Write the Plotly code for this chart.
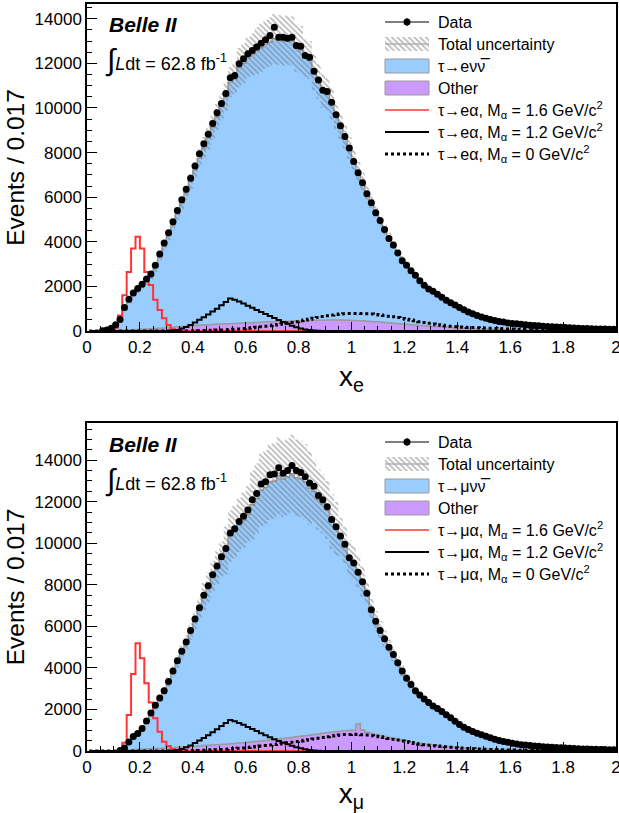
import plotly.graph_objects as go

# ---------------- binning ----------------
N_BINS = 120
X_MIN, X_MAX = 0.0, 2.0
BIN_W = (X_MAX - X_MIN) / N_BINS
centers = [X_MIN + (i + 0.5) * BIN_W for i in range(N_BINS)]

# ---------------- electron channel (top) ----------------
data_e = [0, 0, 0, 10, 40, 120, 280, 520, 1050, 1420,
          1700, 1900, 2100, 2330, 2550, 2950, 3450, 3950, 4400, 4900,
          5400, 5880, 6350, 6850, 7400, 7950, 8400, 8820, 9300, 9780,
          10200, 10650, 11350, 11460, 11980, 12200, 12430, 12580, 12730, 12900,
          13060, 13250, 13620, 13170, 13170, 13130, 13170, 12800, 12770, 12350,
          12270, 11650, 11250, 10790, 10740, 10260, 9700, 9200, 8720, 8200,
          7600, 7100, 6650, 6150, 5750, 5300, 4950, 4550, 4150, 3850,
          3500, 3150, 2950, 2700, 2500, 2250, 2050, 1880, 1780, 1650,
          1510, 1380, 1270, 1170, 1050, 950, 850, 770, 700, 630,
          570, 520, 470, 430, 400, 360, 340, 320, 300, 280,
          260, 245, 230, 215, 200, 190, 180, 165, 155, 145,
          135, 125, 115, 110, 100, 95, 90, 85, 80, 75]

# stacked MC total (tau -> e nu nubar + other)
mc_total_e = [0, 0, 0, 10, 40, 110, 260, 500, 950, 1300,
              1600, 1820, 2030, 2250, 2480, 2850, 3320, 3800, 4270, 4750,
              5250, 5720, 6200, 6700, 7220, 7750, 8200, 8650, 9120, 9600,
              10050, 10500, 11150, 11300, 11800, 12000, 12250, 12400, 12550, 12700,
              12850, 12950, 13100, 13050, 13000, 13050, 13000, 12700, 12600, 12250,
              12150, 11600, 11200, 10750, 10600, 10200, 9650, 9150, 8700, 8200,
              7650, 7150, 6700, 6200, 5800, 5350, 4950, 4550, 4200, 3850,
              3500, 3200, 2950, 2700, 2480, 2250, 2050, 1900, 1770, 1640,
              1500, 1370, 1260, 1150, 1040, 940, 850, 770, 700, 630,
              570, 520, 470, 430, 395, 360, 335, 315, 295, 275,
              255, 240, 225, 210, 198, 186, 175, 163, 153, 143,
              133, 124, 115, 108, 100, 94, 88, 83, 78, 73]

other_e = [0, 0, 0, 0, 0, 0, 10, 20, 30, 45,
           60, 70, 80, 90, 100, 110, 125, 140, 155, 170,
           185, 200, 215, 230, 245, 260, 275, 285, 295, 305,
           315, 320, 330, 340, 350, 355, 360, 370, 380, 390,
           400, 410, 420, 425, 435, 440, 445, 455, 460, 465,
           470, 475, 480, 485, 490, 495, 495, 490, 485, 480,
           475, 465, 455, 440, 430, 415, 400, 385, 370, 350,
           335, 315, 300, 280, 265, 250, 235, 220, 205, 190,
           178, 165, 153, 142, 132, 122, 113, 105, 97, 90,
           84, 78, 72, 67, 62, 58, 54, 50, 47, 44,
           41, 38, 36, 34, 32, 30, 28, 26, 25, 24,
           22, 21, 20, 19, 18, 17, 16, 15, 14, 13]

# total uncertainty, percent of MC total
unc_pct_e = [7, 7, 7, 7, 7, 7, 7, 7, 7, 7,
             7, 7, 7, 7, 7, 7, 5, 5, 5, 5,
             5, 5, 5, 5, 5, 5, 6, 6, 6, 6,
             6, 6, 6, 6, 7.5, 7.5, 7.5, 7.5, 8.5, 8.5,
             8.5, 8.5, 8.5, 8.5, 8.5, 8.5, 8.5, 8.5, 8.5, 7,
             7, 7, 7, 7, 7, 7, 6, 6, 6, 6,
             6, 6, 6, 5, 5, 5, 5, 5, 5, 5,
             5, 5, 5, 5, 5, 5, 5, 5, 5, 5,
             5, 4, 4, 4, 4, 4, 4, 4, 4, 4,
             4, 4, 4, 4, 4, 4, 4, 4, 4, 4,
             4, 4, 4, 4, 4, 4, 4, 4, 4, 4,
             4, 4, 4, 4, 4, 4, 4, 4, 4, 4]

sig16_e = [0, 0, 0, 0, 0, 0, 150, 700, 1600, 2650,
           3700, 4220, 3700, 2650, 2060, 1400, 940, 570, 270, 80,
           30, 15, 5, 0, 0, 0, 0, 0, 0, 0] + [0] * 90

sig12_e = [0] * 18 + [5, 20,
           50, 110, 180, 270, 380, 500, 620, 740, 870, 1000,
           1150, 1300, 1460, 1400, 1320, 1230, 1130, 1040, 940, 850,
           760, 670, 580, 490, 400, 320, 240, 170, 110, 70,
           40, 20, 10, 5] + [0] * 66

sig0_e = [0, 0, 0, 0, 0, 0, 0, 0, 0, 0,
          0, 0, 0, 0, 0, 0, 0, 0, 0, 0,
          0, 0, 5, 8, 10, 15, 20, 25, 30, 40,
          50, 60, 70, 80, 95, 110, 125, 145, 165, 190,
          215, 240, 265, 295, 325, 355, 385, 420, 455, 490,
          530, 570, 610, 650, 685, 715, 740, 760, 775, 785,
          790, 790, 785, 775, 760, 740, 720, 695, 665, 635,
          600, 565, 530, 490, 455, 420, 385, 350, 315, 285,
          255, 230, 210, 195, 180, 170, 160, 152, 145, 138,
          130, 122, 115, 108, 100, 93, 86, 80, 74, 68,
          63, 58, 53, 49, 45, 41, 38, 35, 32, 29,
          26, 24, 22, 20, 18, 16, 14, 13, 12, 11]

# ---------------- muon channel (bottom) ----------------
data_mu = [0, 0, 0, 0, 0, 0, 0, 20, 150, 430,
           700, 840, 1080, 1450, 1830, 2200, 2550, 2900, 3350, 3850,
           4350, 4800, 5250, 5800, 6350, 6900, 7500, 7950, 8480, 8900,
           9350, 9750, 10500, 10700, 11050, 11300, 11600, 12100, 12400, 12850,
           12960, 13300, 13330, 13630, 13370, 13500, 13750, 13500, 13410, 13200,
           12900, 12750, 12300, 12100, 11760, 11150, 10800, 10350, 9950, 9300,
           9050, 8600, 8150, 7600, 6800, 6250, 5800, 5400, 5000, 4650,
           4250, 3850, 3500, 3200, 2900, 2700, 2500, 2330, 2170, 2050,
           1900, 1750, 1600, 1430, 1280, 1140, 1030, 940, 860, 780,
           710, 640, 570, 510, 460, 420, 375, 340, 305, 285,
           265, 245, 225, 210, 195, 180, 165, 155, 140, 130,
           120, 110, 100, 95, 85, 80, 75, 70, 65, 60]

mc_total_mu = [0, 0, 0, 0, 0, 0, 0, 20, 140, 420,
               680, 830, 1060, 1420, 1800, 2160, 2520, 2880, 3320, 3800,
               4300, 4750, 5200, 5750, 6300, 6850, 7420, 7880, 8400, 8820,
               9250, 9650, 10350, 10550, 10880, 11100, 11380, 11850, 12150, 12550,
               12700, 12950, 13000, 13250, 13100, 13200, 13350, 13150, 13100, 12950,
               12650, 12500, 12100, 11900, 11600, 11050, 10700, 10300, 9900, 9300,
               9050, 8650, 8150, 7600, 6850, 6300, 5850, 5420, 5020, 4650,
               4250, 3850, 3500, 3200, 2900, 2700, 2500, 2330, 2170, 2050,
               1900, 1750, 1600, 1430, 1280, 1140, 1030, 940, 860, 780,
               710, 640, 570, 510, 460, 420, 375, 340, 305, 285,
               265, 245, 225, 210, 195, 180, 165, 155, 140, 130,
               120, 110, 100, 95, 85, 80, 75, 70, 65, 60]

other_mu = [0, 0, 0, 0, 0, 0, 0, 0, 20, 40,
            60, 75, 85, 95, 105, 115, 125, 135, 145, 160,
            175, 190, 200, 215, 230, 245, 260, 275, 290, 300,
            315, 330, 345, 360, 380, 400, 420, 440, 460, 480,
            505, 530, 555, 580, 605, 630, 655, 680, 705, 730,
            760, 790, 820, 850, 880, 900, 930, 950, 970, 990,
            1000, 1300, 1010, 900, 850, 800, 750, 700, 650, 600,
            560, 520, 480, 440, 400, 370, 340, 310, 285, 260,
            240, 220, 200, 185, 170, 155, 142, 130, 120, 110,
            100, 92, 85, 78, 72, 66, 61, 56, 52, 48,
            45, 42, 39, 36, 34, 32, 30, 28, 26, 25,
            23, 22, 21, 20, 19, 18, 17, 16, 15, 14]

unc_pct_mu = [8, 8, 8, 8, 8, 8, 8, 8, 8, 8,
              8, 8, 8, 8, 8, 8, 7, 7, 7, 7,
              7, 7, 7, 7, 7, 7, 9, 9, 9, 9,
              9, 12, 12, 12, 12, 12, 12, 14, 14, 14,
              14, 14, 14, 14, 14, 14, 14, 14, 14, 14,
              14, 12, 12, 12, 12, 12, 12, 9, 9, 9,
              9, 9, 9, 7, 7, 7, 7, 7, 7, 7,
              7, 7, 7, 7, 7, 7, 5, 5, 5, 5,
              5, 5, 5, 5, 5, 5, 5, 5, 5, 5,
              5, 5, 5, 5, 5, 5, 5, 5, 5, 5,
              5, 5, 5, 5, 5, 5, 5, 5, 5, 5,
              5, 5, 5, 5, 5, 5, 5, 5, 5, 5]

sig16_mu = [0, 0, 0, 0, 0, 0, 0, 0, 400, 1735,
            3710, 5190, 4470, 3260, 2330, 1575, 930, 450, 240, 80,
            30, 10, 0, 0, 0, 0, 0, 0, 0, 0] + [0] * 90

sig12_mu = [0] * 19 + [15,
            45, 100, 180, 270, 380, 500, 630, 760, 900, 1050,
            1200, 1350, 1490, 1430, 1350, 1260, 1160, 1060, 960, 860,
            760, 660, 570, 480, 400, 320, 250, 185, 130, 85,
            50, 25, 12, 5] + [0] * 66

sig0_mu = [0, 0, 0, 0, 0, 0, 0, 0, 0, 0,
           0, 0, 0, 0, 0, 0, 0, 0, 0, 5,
           8, 10, 14, 18, 24, 30, 38, 46, 55, 65,
           76, 88, 100, 115, 130, 148, 168, 190, 212, 236,
           260, 285, 312, 340, 368, 396, 424, 452, 482, 512,
           545, 578, 612, 645, 690, 720, 748, 770, 790, 800,
           805, 800, 785, 765, 740, 710, 680, 645, 605, 565,
           525, 485, 445, 405, 365, 330, 300, 275, 255, 240,
           220, 200, 180, 160, 145, 132, 120, 110, 100, 90,
           82, 75, 68, 62, 56, 51, 46, 42, 38, 34,
           31, 28, 25, 23, 21, 19, 17, 15, 14, 13,
           12, 11, 10, 9, 8, 7, 6, 6, 5, 5]

for _n, _a in [("data_e", data_e), ("mc_total_e", mc_total_e), ("other_e", other_e),
               ("unc_pct_e", unc_pct_e), ("sig16_e", sig16_e), ("sig12_e", sig12_e),
               ("sig0_e", sig0_e), ("data_mu", data_mu), ("mc_total_mu", mc_total_mu),
               ("other_mu", other_mu), ("unc_pct_mu", unc_pct_mu), ("sig16_mu", sig16_mu),
               ("sig12_mu", sig12_mu), ("sig0_mu", sig0_mu)]:
    assert len(_a) == N_BINS, (_n, len(_a))

x_tick_vals = [0, 0.2, 0.4, 0.6, 0.8, 1, 1.2, 1.4, 1.6, 1.8, 2]
y_tick_step = 2000

FONT = "Liberation Sans, Arial, sans-serif"
BLUE = "#99ccff"
PURPLE = "#cc99ff"
GRAY = "#9a9a9a"
RED = "#ff3333"
HATCH = dict(shape="\\", fgcolor="#6e6e6e", bgcolor="rgba(0,0,0,0)", size=4, solidity=0.4)

# figure geometry (pixels)
W, H = 619, 813
M_L, M_R, M_T, M_B = 87, 3, 4, 62
PX_LEFT, PX_RIGHT = M_L, W - M_R
PX_TOP, PX_BOTTOM = M_T, H - M_B

panels = [
    dict(xa="x", ya="y", lep="e", dy=0,
         data=data_e, mc=mc_total_e, other=other_e, unc=unc_pct_e,
         s16=sig16_e, s12=sig12_e, s0=sig0_e),
    dict(xa="x2", ya="y2", lep="μ", dy=420,
         data=data_mu, mc=mc_total_mu, other=other_mu, unc=unc_pct_mu,
         s16=sig16_mu, s12=sig12_mu, s0=sig0_mu),
]

fig = go.Figure()
for p in panels:
    ax = dict(xaxis=p["xa"], yaxis=p["ya"], showlegend=False)
    lep = p["lep"]
    fig.add_trace(go.Scatter(
        x=centers, y=p["mc"], mode="lines", line_shape="hvh",
        line=dict(color=GRAY, width=1.5), fill="tozeroy", fillcolor=BLUE,
        name=f"τ→{lep}νν\u0305", **ax))
    fig.add_trace(go.Scatter(
        x=centers, y=p["other"], mode="lines", line_shape="hvh",
        line=dict(color=GRAY, width=1.5), fill="tozeroy", fillcolor=PURPLE,
        name="Other", **ax))
    lo = [m * (1 - u / 100.0) for m, u in zip(p["mc"], p["unc"])]
    hi = [m * (1 + u / 100.0) for m, u in zip(p["mc"], p["unc"])]
    fig.add_trace(go.Scatter(
        x=centers, y=lo, mode="lines", line_shape="hvh",
        line=dict(width=0, color="rgba(0,0,0,0)"), hoverinfo="skip", **ax))
    fig.add_trace(go.Scatter(
        x=centers, y=hi, mode="lines", line_shape="hvh",
        line=dict(width=0, color="rgba(0,0,0,0)"), fill="tonexty",
        fillcolor="rgba(0,0,0,0)", fillpattern=HATCH,
        name="Total uncertainty", **ax))
    fig.add_trace(go.Scatter(
        x=centers, y=p["s16"], mode="lines", line_shape="hvh",
        line=dict(color=RED, width=2), name="M=1.6", **ax))
    fig.add_trace(go.Scatter(
        x=centers, y=p["s12"], mode="lines", line_shape="hvh",
        line=dict(color="black", width=2), name="M=1.2", **ax))
    fig.add_trace(go.Scatter(
        x=centers, y=p["s0"], mode="lines", line_shape="hvh",
        line=dict(color="black", width=3, dash="dot"), name="M=0", **ax))
    dx = [c for c, v in zip(centers, p["data"]) if v > 0]
    dy = [v for v in p["data"] if v > 0]
    fig.add_trace(go.Scatter(
        x=dx, y=dy, mode="markers", marker=dict(color="black", size=7),
        name="Data", **ax))

# ---------------- legends (drawn on a pixel-mapped overlay axis) ----------------
LEG_X0, LEG_X1, LEG_TX = 385, 429, 436
LEG_ROWS = [22, 44, 66, 88, 110, 132, 154]
BOX_H = 7
lg = dict(xaxis="x3", yaxis="y3", showlegend=False, hoverinfo="skip")
for p in panels:
    lep = p["lep"]
    r = [v + p["dy"] for v in LEG_ROWS]
    xm = (LEG_X0 + LEG_X1) / 2
    # Data
    fig.add_trace(go.Scatter(x=[LEG_X0, LEG_X1], y=[r[0], r[0]], mode="lines",
                             line=dict(color="black", width=1), **lg))
    fig.add_trace(go.Scatter(x=[xm], y=[r[0]], mode="markers",
                             marker=dict(color="black", size=7),
                             error_y=dict(type="constant", value=4, color="black",
                                          thickness=1, width=0), **lg))
    # Total uncertainty
    fig.add_trace(go.Scatter(x=[LEG_X0, LEG_X1, LEG_X1, LEG_X0, LEG_X0],
                             y=[r[1] - BOX_H, r[1] - BOX_H, r[1] + BOX_H, r[1] + BOX_H, r[1] - BOX_H],
                             mode="lines", fill="toself", fillcolor="rgba(0,0,0,0)",
                             fillpattern=HATCH, line=dict(width=0, color="rgba(0,0,0,0)"), **lg))
    fig.add_trace(go.Scatter(x=[LEG_X0, LEG_X1], y=[r[1], r[1]], mode="lines",
                             line=dict(color="#b0b0b0", width=1.5), **lg))
    # SM and other boxes
    for row, col in [(r[2], BLUE), (r[3], PURPLE)]:
        fig.add_trace(go.Scatter(x=[LEG_X0, LEG_X1, LEG_X1, LEG_X0, LEG_X0],
                                 y=[row - BOX_H, row - BOX_H, row + BOX_H, row + BOX_H, row - BOX_H],
                                 mode="lines", fill="toself", fillcolor=col,
                                 line=dict(color=GRAY, width=1), **lg))
    # signal lines
    for row, col, wd, ds in [(r[4], RED, 1.5, "solid"), (r[5], "black", 2, "solid"),
                             (r[6], "black", 3, "dot")]:
        fig.add_trace(go.Scatter(x=[LEG_X0, LEG_X1], y=[row, row], mode="lines",
                                 line=dict(color=col, width=wd, dash=ds), **lg))
    labels = ["Data", "Total uncertainty", f"τ→{lep}νν\u0305", "Other",
              f"τ→{lep}α, M<sub>α</sub> = 1.6 GeV/c<sup>2</sup>",
              f"τ→{lep}α, M<sub>α</sub> = 1.2 GeV/c<sup>2</sup>",
              f"τ→{lep}α, M<sub>α</sub> = 0 GeV/c<sup>2</sup>"]
    for row, txt in zip(r, labels):
        fig.add_annotation(xref="x3", yref="y3", x=LEG_TX, y=row, text=txt,
                           showarrow=False, xanchor="left", yanchor="middle",
                           font=dict(family=FONT, size=16, color="black"))
    # experiment label and luminosity
    fig.add_annotation(xref="x3", yref="y3", x=107, y=24 + p["dy"],
                       text="<b><i>Belle II</i></b>", showarrow=False,
                       xanchor="left", yanchor="middle",
                       font=dict(family=FONT, size=21, color="black"))
    fig.add_annotation(xref="x3", yref="y3", x=103, y=60 + p["dy"],
                       text="<span style='font-size:30px'>∫</span><i>L</i>dt = 62.8 fb<sup>-1</sup>",
                       showarrow=False, xanchor="left", yanchor="middle",
                       font=dict(family=FONT, size=18, color="black"))

axis_common = dict(
    showline=True, linecolor="black", linewidth=1.5, mirror=True, automargin=False,
    ticks="inside", tickcolor="black", tickwidth=1, showgrid=False, zeroline=False,
    tickfont=dict(family=FONT, size=17, color="black"), ticklabeloverflow="allow",
)
xaxis_common = dict(axis_common, range=[X_MIN, X_MAX], tickvals=x_tick_vals,
                    ticklen=9, minor=dict(dtick=0.05, ticklen=5, tickcolor="black", ticks="inside"))
yaxis_common = dict(axis_common, dtick=y_tick_step, tick0=0, ticklen=10, tickformat="d",
                    minor=dict(dtick=500, ticklen=5, tickcolor="black", ticks="inside"))

TOP_DOM = [(PX_BOTTOM - 331) / (PX_BOTTOM - PX_TOP), 1.0]
BOT_DOM = [0.0, (PX_BOTTOM - 423) / (PX_BOTTOM - PX_TOP)]

fig.update_layout(
    width=W, height=H,
    margin=dict(l=M_L, r=M_R, t=M_T, b=M_B),
    paper_bgcolor="white", plot_bgcolor="rgba(0,0,0,0)",
    font=dict(family=FONT, color="black"),
    showlegend=False,
    xaxis=dict(xaxis_common, anchor="y", domain=[0, 1],
               title=dict(text="x<sub>e</sub>", font=dict(size=28), standoff=10)),
    yaxis=dict(yaxis_common, anchor="x", domain=TOP_DOM, range=[0, 14660],
               title=dict(text="Events / 0.017", font=dict(size=24.5), standoff=3)),
    xaxis2=dict(xaxis_common, anchor="y2", domain=[0, 1],
                title=dict(text="x<sub>μ</sub>", font=dict(size=28), standoff=10)),
    yaxis2=dict(yaxis_common, anchor="x2", domain=BOT_DOM, range=[0, 15790],
                title=dict(text="Events / 0.017", font=dict(size=24.5), standoff=3)),
    xaxis3=dict(domain=[0, 1], range=[PX_LEFT, PX_RIGHT], visible=False,
                anchor="y3", fixedrange=True),
    yaxis3=dict(domain=[0, 1], range=[PX_BOTTOM, PX_TOP], visible=False,
                anchor="x3", fixedrange=True),
)

fig.write_html("out.html", config={"displayModeBar": False},
               post_script="document.body.style.margin='0';")
